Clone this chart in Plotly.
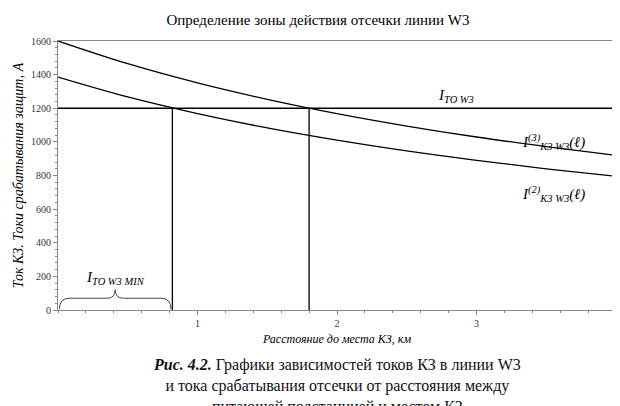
import plotly.graph_objects as go

# Distance, km
dist = [0, 0.5, 1, 1.5, 2, 2.5, 3, 3.5, 4]
# Three-phase fault current, A
i_k3 = [1600, 1465, 1351, 1253, 1168, 1094, 1029, 972, 920]
# Two-phase fault current, A
i_k2 = [1385, 1267, 1168, 1083, 1010, 946, 890, 840, 795]
i_to = 1200
l_min = 0.82
l_max = 1.8

F = "Liberation Serif, Times New Roman, DejaVu Serif, serif"
fig = go.Figure()
for y in (i_k3, i_k2):
    fig.add_trace(go.Scatter(x=dist, y=y, mode="lines", line=dict(color="black", width=1.3, shape="spline")))
fig.add_trace(go.Scatter(x=[0, 4], y=[i_to, i_to], mode="lines", line=dict(color="black", width=1.3)))
for xv in (l_min, l_max):
    fig.add_trace(go.Scatter(x=[xv, xv], y=[0, i_to], mode="lines", line=dict(color="black", width=1.3)))

# brace over 0..l_min
m = l_min / 2
fig.add_shape(type="path", xref="x", yref="y", line=dict(color="#444", width=1),
              path=f"M 0.01,5 Q 0.01,70 0.08,70 L {m-0.06},70 Q {m},70 {m},120 Q {m},70 {m+0.06},70 "
                   f"L {l_min-0.08},70 Q {l_min-0.01},70 {l_min-0.01},5")

ann = [
    dict(x=m, y=125, text="<i>I<sub>TO W3 MIN</sub></i>", yanchor="bottom", font=dict(size=15)),
    dict(x=2.85, y=1205, text="<i>I<sub>TO W3</sub></i>", yanchor="bottom", font=dict(size=15)),
    dict(x=3.55, y=1000, text="<i>I<sup>(3)</sup><sub>K3 W3</sub>(ℓ)</i>", font=dict(size=15)),
    dict(x=3.55, y=690, text="<i>I<sup>(2)</sup><sub>K3 W3</sub>(ℓ)</i>", font=dict(size=15)),
    dict(xref="paper", yref="paper", x=0.5, y=-0.165, text="<b><i>Рис. 4.2.</i></b> Графики зависимостей токов КЗ в линии W3<br>"
         "и тока срабатывания отсечки от расстояния между<br>питающей подстанцией и местом КЗ",
         yanchor="top", font=dict(size=16, color="#111")),
]
for a in ann:
    a.setdefault("showarrow", False)
    fig.add_annotation(**a)

ax = dict(showline=True, linecolor="#888", mirror=True, showgrid=False, zeroline=False, automargin=False,
          ticks="outside", ticklen=4, tickcolor="#888", tickfont=dict(size=10, color="#333"))
fig.update_layout(
    width=620, height=406, margin=dict(l=50, r=12, t=33, b=104, autoexpand=False),
    paper_bgcolor="white", plot_bgcolor="white", showlegend=False,
    font=dict(family=F, color="black"),
    title=dict(text="Определение зоны действия отсечки линии W3", x=0.5, y=0.985, yanchor="top",
               font=dict(size=15, family=F), automargin=False),
    xaxis=dict(ax, range=[0, 4], tickvals=[1, 2, 3, 4],
               minor=dict(dtick=0.2, ticks="outside", ticklen=2, tickcolor="#888"),
               title=dict(text="<i>Расстояние до места КЗ, км</i>", standoff=6, font=dict(size=12))),
    yaxis=dict(ax, range=[0, 1600], dtick=200,
               minor=dict(dtick=40, ticks="outside", ticklen=2, tickcolor="#888"),
               title=dict(text="<i>Ток КЗ. Токи срабатывания защит, А</i>", standoff=4, font=dict(size=14))),
)
fig.write_html("out.html")
